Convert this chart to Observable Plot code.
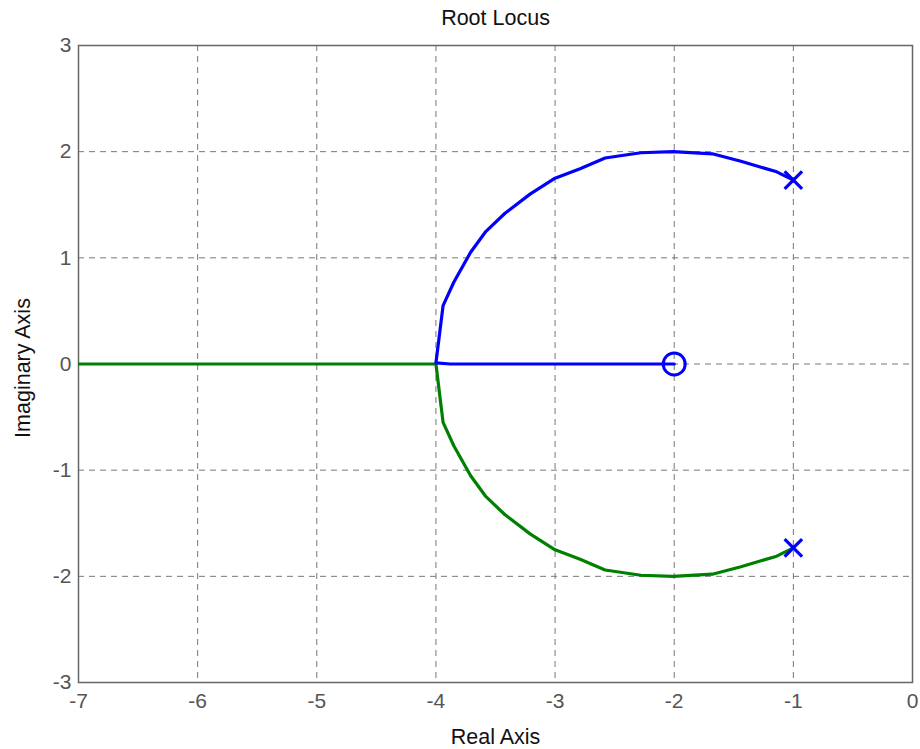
<!DOCTYPE html>
<html><head><meta charset="utf-8">
<script src="https://cdn.jsdelivr.net/npm/d3@7"></script>
<script src="https://cdn.jsdelivr.net/npm/@observablehq/plot@0.6"></script>
<style>body{margin:0;background:#fff;font-family:"Liberation Sans",Arial,sans-serif}</style>
</head><body><div id="chart"></div>
<script>
const xTicks = [-7,-6,-5,-4,-3,-2,-1,0];
const yTicks = [-3,-2,-1,0,1,2,3];
const blueX = [-1.00,-1.14,-1.44,-1.68,-2.01,-2.28,-2.58,-2.79,-3.00,-3.21,-3.42,-3.58,-3.71,-3.85,-3.94,-4.00,-3.88,-2.00];
const blueY = [1.732,1.81,1.91,1.98,2.00,1.99,1.94,1.84,1.75,1.60,1.42,1.25,1.05,0.77,0.55,0.01,0.00,0.00];
const greenX = [-1.00,-1.14,-1.44,-1.68,-2.01,-2.28,-2.58,-2.79,-3.00,-3.21,-3.42,-3.58,-3.71,-3.85,-3.94,-4.00,-7.50];
const greenY = [-1.732,-1.81,-1.91,-1.98,-2.00,-1.99,-1.94,-1.84,-1.75,-1.60,-1.42,-1.25,-1.05,-0.77,-0.55,0.00,0.00];
const polesX = [-1,-1];
const polesY = [1.732,-1.732];
const zerosX = [-2];
const zerosY = [0];

const blue = blueX.map((x,i)=>({x, y: blueY[i]}));
const green = greenX.map((x,i)=>({x, y: greenY[i]}));
const poles = polesX.map((x,i)=>({x, y: polesY[i]}));
const zeros = zerosX.map((x,i)=>({x, y: zerosY[i]}));
const fmt = d => (d < 0 ? "-" : "") + Math.abs(d);

const chart = Plot.plot({
  width: 920, height: 749,
  marginLeft: 78, marginRight: 8, marginTop: 45, marginBottom: 67,
  style: {fontFamily: '"Liberation Sans", Arial, sans-serif', fontSize: "21px", background: "#fff", overflow: "visible"},
  x: {domain: [-7, 0], ticks: xTicks},
  y: {domain: [-3, 3], ticks: yTicks},
  marks: [
    Plot.gridX(xTicks.slice(1,-1), {stroke: "#777", strokeOpacity: 1, strokeDasharray: "6,5", strokeWidth: 1}),
    Plot.gridY(yTicks.slice(1,-1), {stroke: "#777", strokeOpacity: 1, strokeDasharray: "6,5", strokeWidth: 1}),
    Plot.frame({stroke: "#666", strokeWidth: 1.5}),
    Plot.axisX(xTicks, {tickSize: 0, tickPadding: 11, fill: "#555", fontSize: 21, label: null, tickFormat: fmt}),
    Plot.axisY(yTicks, {tickSize: 0, tickPadding: 7, fill: "#555", fontSize: 21, label: null, tickFormat: fmt}),
    Plot.line(green, {x: "x", y: "y", stroke: "#008000", strokeWidth: 3.2, clip: true}),
    Plot.line(blue, {x: "x", y: "y", stroke: "#0000ff", strokeWidth: 3.2, clip: true}),
    Plot.dot(poles, {x: "x", y: "y", symbol: "times", r: 8, stroke: "#0000ff", strokeWidth: 3.2}),
    Plot.dot(zeros, {x: "x", y: "y", symbol: "circle", r: 11, stroke: "#0000ff", strokeWidth: 3, fill: "none"}),
    Plot.text(["Root Locus"], {frameAnchor: "top", lineAnchor: "middle", textAnchor: "middle", dy: -27, fill: "#111", fontSize: 21.5}),
    Plot.text(["Real Axis"], {frameAnchor: "bottom", lineAnchor: "middle", textAnchor: "middle", dy: 55, fill: "#111", fontSize: 21.5}),
    Plot.text(["Imaginary Axis"], {frameAnchor: "left", lineAnchor: "middle", textAnchor: "middle", dx: -55, dy: 4, rotate: -90, fill: "#111", fontSize: 21.5})
  ]
});
document.getElementById("chart").appendChild(chart);
</script></body></html>
